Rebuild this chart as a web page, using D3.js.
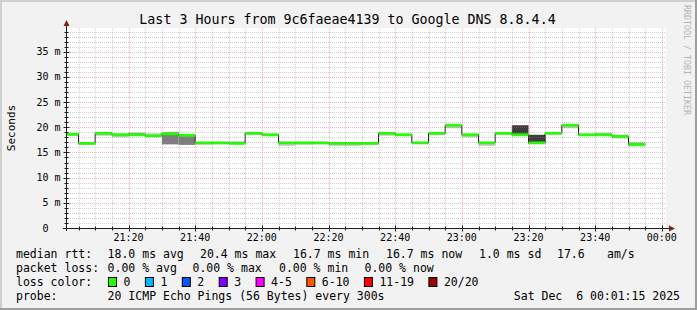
<!DOCTYPE html>
<html>
<head>
<meta charset="utf-8">
<script src="https://cdn.jsdelivr.net/npm/d3@7"></script>
<style>
  body { margin: 0; background: #fff; }
  svg text { font-family: "DejaVu Sans Mono", monospace; white-space: pre; }
</style>
</head>
<body>
<div id="chart"></div>
<script>
// 5 minute slots (start time of each slot)
const slots = ['21:00', '21:05', '21:10', '21:15', '21:20', '21:25', '21:30', '21:35', '21:40', '21:45',
  '21:50', '21:55', '22:00', '22:05', '22:10', '22:15', '22:20', '22:25', '22:30', '22:35',
  '22:40', '22:45', '22:50', '22:55', '23:00', '23:05', '23:10', '23:15', '23:20', '23:25',
  '23:30', '23:35', '23:40', '23:45', '23:50'];
// median rtt per slot, ms
const median = [18.6, 16.8, 18.8, 18.5, 18.5, 18.3, 18.7, 18.4, 16.9, 16.9,
  16.8, 18.8, 18.5, 16.9, 16.9, 16.9, 16.8, 16.8, 16.8, 18.8,
  18.5, 16.9, 18.8, 20.4, 18.5, 16.9, 18.8, 18.5, 16.9, 18.8,
  20.4, 18.5, 18.5, 18.2, 16.6];
// smoke (spread of the 20 pings), ms
const smokeLo = [18.2, 16.5, 18.3, 18.0, 18.3, 18.2, 16.6, 16.5, 16.5, 16.6,
  16.6, 18.5, 18.3, 16.3, 16.5, 16.6, 16.3, 16.3, 16.5, 18.3,
  18.3, 16.7, 18.4, 19.8, 18.0, 16.3, 18.5, 18.3, 16.7, 18.6,
  19.8, 18.4, 18.3, 17.8, 16.2];
const smokeHi = [18.8, 17.0, 19.0, 18.8, 18.9, 18.8, 19.0, 18.5, 17.0, 17.0,
  17.3, 19.0, 18.7, 17.0, 17.0, 17.0, 17.0, 17.0, 17.0, 19.0,
  18.7, 17.0, 19.0, 20.6, 18.7, 17.0, 19.0, 20.4, 18.5, 19.0,
  20.6, 18.7, 18.9, 18.5, 17.0];
const smokeDensity = [0.2, 0.2, 0.2, 0.2, 0.45, 0.2, 0.55, 0.55, 0.15, 0.15,
  0.15, 0.2, 0.15, 0.2, 0.15, 0.15, 0.2, 0.2, 0.15, 0.2,
  0.15, 0.15, 0.2, 0.2, 0.2, 0.2, 0.15, 0.85, 0.85, 0.15,
  0.2, 0.15, 0.25, 0.3, 0.3];

const yTickValues = [0, 5, 10, 15, 20, 25, 30, 35];
const yMax = 39.7;

const title = 'Last 3 Hours from 9c6faeae4139 to Google DNS 8.8.4.4';
const rttLabel = 'median rtt:';
const rttStats = ['18.0 ms avg', '20.4 ms max', '16.7 ms min', '16.7 ms now', '1.0 ms sd', '17.6', 'am/s'];
const lossLabel = 'packet loss:';
const lossStats = ['0.00 % avg', '0.00 % max', '0.00 % min', '0.00 % now'];
const colorLabel = 'loss color:';
const lossBins = ['0', '1', '2', '3', '4-5', '6-10', '11-19', '20/20'];
const lossColors = ['#22ff00', '#00b8ff', '#0059ff', '#7e00ff', '#ff00ff', '#ff5500', '#ff0000', '#a10000'];
const probeLabel = 'probe:';
const probeText = '20 ICMP Echo Pings (56 Bytes) every 300s';
const stamp = 'Sat Dec  6 00:01:15 2025';

const W = 697, H = 310;
const plot = {left: 66, right: 666, top: 28, bottom: 228};

const parse = s => {
  const [h, m] = s.split(':').map(Number);
  return new Date(2025, 11, 5, h, m, 0);
};
const tStart = new Date(2025, 11, 5, 21, 1, 15);
const tEnd = new Date(2025, 11, 6, 0, 1, 15);

const x = d3.scaleTime().domain([tStart, tEnd]).range([plot.left, plot.right]);
const y = d3.scaleLinear().domain([0, yMax]).range([plot.bottom, plot.top]);
const smokeColor = d3.scaleLinear().domain([0, 1]).range(['#f4f4f4', '#1c1c1c']);

const svg = d3.select('#chart').append('svg')
  .attr('width', W).attr('height', H);

// background + rrdtool shading frame
svg.append('rect').attr('width', W).attr('height', H).attr('fill', '#f2f2f2');
svg.append('path').attr('d', `M0,0H${W}V2H2V${H}H0Z`).attr('fill', '#cfcfcf');
svg.append('path').attr('d', `M${W},${H}H0V${H - 2}H${W - 2}V0H${W}Z`).attr('fill', '#9e9e9e');

svg.append('rect')
  .attr('x', plot.left).attr('y', plot.top)
  .attr('width', plot.right - plot.left).attr('height', plot.bottom - plot.top)
  .attr('fill', '#fff');

const data = slots.map((s, i) => {
  const t0 = parse(s);
  return {
    t0: t0 < tStart ? tStart : t0,
    t1: d3.timeMinute.offset(t0, 5),
    med: median[i], lo: smokeLo[i], hi: smokeHi[i], dens: smokeDensity[i]
  };
});

// smoke
svg.append('g').selectAll('rect').data(data).join('rect')
  .attr('x', d => x(d.t0))
  .attr('width', d => x(d.t1) - x(d.t0))
  .attr('y', d => y(d.hi))
  .attr('height', d => y(d.lo) - y(d.hi))
  .attr('fill', d => smokeColor(d.dens));

// median step line
const stepPts = data.map(d => [d.t0, d.med]).concat([[data[data.length - 1].t1, data[data.length - 1].med]]);
svg.append('path')
  .attr('d', d3.line().x(d => x(d[0])).y(d => y(d[1])).curve(d3.curveStepAfter)(stepPts))
  .attr('fill', 'none').attr('stroke', '#1a1a1a').attr('stroke-width', 1);

svg.append('g').selectAll('rect').data(data).join('rect')
  .attr('x', d => x(d.t0))
  .attr('width', d => x(d.t1) - x(d.t0))
  .attr('y', d => y(d.med) - 1.4)
  .attr('height', 2.8)
  .attr('fill', lossColors[0]);

// grid (drawn on top, like rrdtool)
const grid = svg.append('g');
const minorTimes = d3.timeMinute.every(5).range(tStart, tEnd);
const majorTimes = d3.timeMinute.every(20).range(tStart, tEnd);
const isMajorT = t => t.getMinutes() % 20 === 0;
const minorCol = 'rgba(143,143,143,0.42)', majorCol = 'rgba(222,79,79,0.42)';
grid.selectAll('.vmin').data(minorTimes.filter(t => !isMajorT(t))).join('line')
  .attr('x1', d => Math.round(x(d)) + 0.5).attr('x2', d => Math.round(x(d)) + 0.5)
  .attr('y1', plot.top).attr('y2', plot.bottom)
  .attr('stroke', minorCol).attr('stroke-dasharray', '1,1');
const minorY = d3.range(1, Math.floor(yMax) + 1).filter(v => v % 5 !== 0);
grid.selectAll('.hmin').data(minorY).join('line')
  .attr('x1', plot.left).attr('x2', plot.right)
  .attr('y1', d => Math.round(y(d)) + 0.5).attr('y2', d => Math.round(y(d)) + 0.5)
  .attr('stroke', minorCol).attr('stroke-dasharray', '1,1');
grid.selectAll('.vmaj').data(majorTimes).join('line')
  .attr('x1', d => Math.round(x(d)) + 0.5).attr('x2', d => Math.round(x(d)) + 0.5)
  .attr('y1', plot.top).attr('y2', plot.bottom)
  .attr('stroke', majorCol).attr('stroke-dasharray', '1,1');
grid.selectAll('.hmaj').data(yTickValues.filter(v => v > 0)).join('line')
  .attr('x1', plot.left).attr('x2', plot.right)
  .attr('y1', d => Math.round(y(d)) + 0.5).attr('y2', d => Math.round(y(d)) + 0.5)
  .attr('stroke', majorCol).attr('stroke-dasharray', '1,1');

// axes
const axisCol = '#1f1f1f', arrowCol = '#801f1f';
const ax = svg.append('g');
const ya = plot.bottom + 0.5, xa = plot.left + 0.5;
ax.append('line').attr('x1', plot.left - 3).attr('x2', plot.right + 4).attr('y1', ya).attr('y2', ya)
  .attr('stroke', axisCol);
ax.append('line').attr('x1', xa).attr('x2', xa).attr('y1', plot.bottom + 3).attr('y2', plot.top - 3)
  .attr('stroke', axisCol);
ax.append('path').attr('d', `M${plot.right + 3},${ya - 3}L${plot.right + 9},${ya}L${plot.right + 3},${ya + 3}Z`)
  .attr('fill', arrowCol);
ax.append('path').attr('d', `M${xa - 3},${plot.top - 2}L${xa},${plot.top - 8}L${xa + 3},${plot.top - 2}Z`)
  .attr('fill', arrowCol);

// tick marks
ax.selectAll('.xt').data(minorTimes).join('line')
  .attr('x1', d => Math.round(x(d)) + 0.5).attr('x2', d => Math.round(x(d)) + 0.5)
  .attr('y1', d => ya - (isMajorT(d) ? 3 : 2)).attr('y2', d => ya + (isMajorT(d) ? 3 : 2))
  .attr('stroke', axisCol);
ax.selectAll('.yt').data(d3.range(1, Math.floor(yMax) + 1)).join('line')
  .attr('y1', d => Math.round(y(d)) + 0.5).attr('y2', d => Math.round(y(d)) + 0.5)
  .attr('x1', d => xa - (d % 5 === 0 ? 3 : 2)).attr('x2', d => xa + (d % 5 === 0 ? 3 : 2))
  .attr('stroke', axisCol);

// axis labels
svg.append('g').selectAll('text').data(majorTimes).join('text')
  .attr('x', d => x(d)).attr('y', 241)
  .attr('text-anchor', 'middle').attr('font-size', 10)
  .text(d3.timeFormat('%H:%M'));
svg.append('g').selectAll('text').data(yTickValues).join('text')
  .attr('x', 60.5).attr('y', d => y(d) + 3.5)
  .attr('text-anchor', 'end').attr('font-size', 10)
  .text(d => d === 0 ? '0  ' : d + ' m');

svg.append('text')
  .attr('transform', `translate(15,${(plot.top + plot.bottom) / 2}) rotate(-90)`)
  .attr('text-anchor', 'middle').attr('font-size', 11)
  .text('Seconds');

svg.append('text')
  .attr('x', 347.5).attr('y', 23.5).attr('text-anchor', 'middle').attr('font-size', 13.3)
  .text(title);

svg.append('text')
  .attr('transform', 'translate(684,5) rotate(90)')
  .attr('font-size', 8.3).attr('fill', '#b4b4b4')
  .text('RRDTOOL / TOBI OETIKER');

// legend
const lg = svg.append('g').attr('font-size', 11.5).attr('fill', '#000');
const rows = [258, 272, 286, 300];
const col0 = 16, col1 = 107.6;
lg.append('text').attr('x', col0).attr('y', rows[0]).text(rttLabel);
const rttX = [col1, 200, 293, 386, 479, 557, 607];
rttStats.forEach((s, i) => lg.append('text').attr('x', rttX[i]).attr('y', rows[0]).text(s));

lg.append('text').attr('x', col0).attr('y', rows[1]).text(lossLabel);
const lossX = [col1, 192.5, 279, 364.5];
lossStats.forEach((s, i) => lg.append('text').attr('x', lossX[i]).attr('y', rows[1]).text(s));

lg.append('text').attr('x', col0).attr('y', rows[2]).text(colorLabel);
let bx = 108;
lossBins.forEach((b, i) => {
  lg.append('rect').attr('x', bx + 0.5).attr('y', rows[2] - 8.5).attr('width', 8).attr('height', 9)
    .attr('fill', lossColors[i]).attr('stroke', '#000').attr('stroke-width', 1);
  lg.append('text').attr('x', bx + 15.5).attr('y', rows[2]).text(b);
  bx += 30 + 6.9 * b.length;
});

lg.append('text').attr('x', col0).attr('y', rows[3]).text(probeLabel);
lg.append('text').attr('x', col1).attr('y', rows[3]).text(probeText);
lg.append('text').attr('x', 680).attr('y', rows[3]).attr('text-anchor', 'end').text(stamp);
</script>
</body>
</html>
